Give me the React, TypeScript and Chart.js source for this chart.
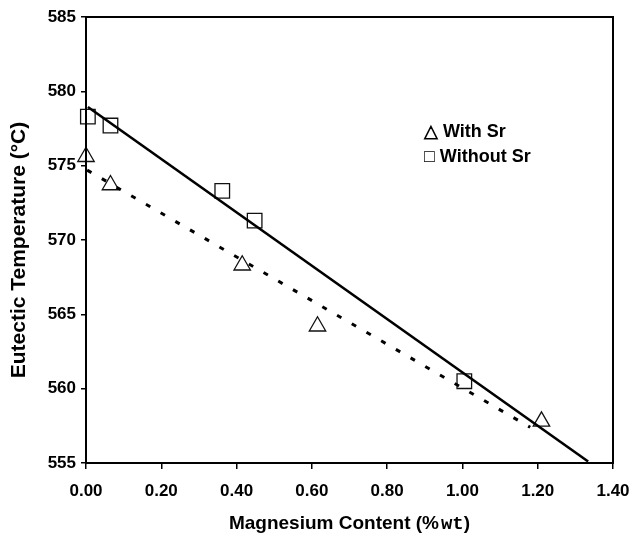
import React, { useEffect, useRef } from "react";
import { Chart, registerables } from "chart.js";

Chart.register(...registerables);

// Measured data (Magnesium content %wt vs eutectic temperature °C)
const withSrX = [0.0, 0.065, 0.415, 0.615, 1.21];
const withSrY = [575.6, 573.7, 568.3, 564.2, 557.8];
const withoutSrX = [0.005, 0.065, 0.362, 0.448, 1.005];
const withoutSrY = [578.3, 577.7, 573.3, 571.3, 560.5];

// Trend lines (end points)
const withoutSrFitX = [0.005, 1.334];
const withoutSrFitY = [578.95, 555.1];
const withSrFitX = [0.003, 1.18];
const withSrFitY = [574.7, 557.4];

const xTicks = [0, 0.2, 0.4, 0.6, 0.8, 1.0, 1.2, 1.4];
const yTicks = [555, 560, 565, 570, 575, 580, 585];

const legendLabels = ["\u25B3 With Sr", "\u25A1 Without Sr"];
const yTitle = "Eutectic Temperature (\u00B0C)";
const xTitleParts = ["Magnesium Content (%", "wt", ")"];

const toPts = (xs: number[], ys: number[]) => xs.map((x, i) => ({ x, y: ys[i] }));

const decorPlugin = {
  id: "decor",
  afterDraw(chart: any) {
    const { ctx, chartArea } = chart;
    const { left, right, top, bottom } = chartArea;
    ctx.save();
    // frame
    ctx.strokeStyle = "#000";
    ctx.lineWidth = 2;
    ctx.strokeRect(left, top, right - left, bottom - top);

    // legend
    ctx.fillStyle = "#000";
    ctx.font = "bold 18px Arial, 'Liberation Sans', sans-serif";
    ctx.textBaseline = "middle";
    ctx.textAlign = "left";
    ctx.fillText(legendLabels[0], 424, 132);
    ctx.fillText(legendLabels[1], 424, 157);

    // y title
    ctx.save();
    ctx.translate(19, 250);
    ctx.rotate(-Math.PI / 2);
    ctx.textAlign = "center";
    ctx.textBaseline = "middle";
    ctx.font = "bold 21px Arial, 'Liberation Sans', sans-serif";
    ctx.fillText(yTitle, 0, 0);
    ctx.restore();

    // x title with mixed fonts
    const fA = "bold 19px Arial, 'Liberation Sans', sans-serif";
    const fM = "bold 19px 'Courier New', 'Liberation Mono', monospace";
    ctx.font = fA;
    const w0 = ctx.measureText(xTitleParts[0]).width;
    const w2 = ctx.measureText(xTitleParts[2]).width;
    ctx.font = fM;
    const w1 = ctx.measureText(xTitleParts[1]).width;
    const total = w0 + w1 + w2 + 2;
    let x = (left + right) / 2 - total / 2;
    const yb = 529;
    ctx.textBaseline = "alphabetic";
    ctx.textAlign = "left";
    ctx.font = fA;
    ctx.fillText(xTitleParts[0], x, yb);
    x += w0 + 2;
    ctx.font = fM;
    ctx.fillText(xTitleParts[1], x, yb);
    x += w1;
    ctx.font = fA;
    ctx.fillText(xTitleParts[2], x, yb);
    ctx.restore();
  },
};

export default function App() {
  const ref = useRef<HTMLCanvasElement | null>(null);

  useEffect(() => {
    document.body.style.margin = "0";
    const canvas = ref.current;
    if (!canvas) return;
    const tickFont = { family: "Arial, 'Liberation Sans', sans-serif", size: 17, weight: "bold" as const };
    const chart = new Chart(canvas, {
      type: "scatter",
      data: {
        datasets: [
          {
            label: "Without Sr fit",
            data: toPts(withoutSrFitX, withoutSrFitY),
            showLine: true,
            borderColor: "#000",
            borderWidth: 2.6,
            pointRadius: 0,
            fill: false,
            clip: false,
          },
          {
            label: "With Sr fit",
            data: toPts(withSrFitX, withSrFitY),
            showLine: true,
            borderColor: "#000",
            borderWidth: 3,
            borderDash: [5, 12],
            pointRadius: 0,
            fill: false,
            clip: false,
          },
          {
            label: "With Sr",
            data: toPts(withSrX, withSrY),
            pointStyle: "triangle",
            pointRadius: 9.5,
            borderColor: "#111",
            borderWidth: 1.3,
            backgroundColor: "rgba(0,0,0,0)",
            clip: false,
          },
          {
            label: "Without Sr",
            data: toPts(withoutSrX, withoutSrY),
            pointStyle: "rect",
            pointRadius: 10.3,
            borderColor: "#111",
            borderWidth: 1.3,
            backgroundColor: "rgba(0,0,0,0)",
            clip: false,
          },
        ],
      },
      options: {
        responsive: false,
        animation: false,
        events: [],
        layout: { padding: { left: 0, top: 17, right: 20, bottom: 0 } },
        plugins: {
          legend: { display: false },
          tooltip: { enabled: false },
          title: { display: false },
        },
        scales: {
          x: {
            type: "linear",
            min: 0,
            max: 1.4,
            afterFit: (s: any) => {
              s.height = 71;
              s.paddingLeft = 0;
              s.paddingRight = 0;
            },
            afterBuildTicks: (s: any) => {
              s.ticks = xTicks.map((v) => ({ value: v }));
            },
            grid: { drawOnChartArea: false, drawTicks: true, tickLength: 6, color: "#000", lineWidth: 1.5 },
            border: { display: true, color: "#000", width: 2 },
            ticks: {
              color: "#000",
              font: tickFont,
              padding: 12,
              maxRotation: 0,
              callback: (v: any) => Number(v).toFixed(2),
            },
          },
          y: {
            type: "linear",
            min: 555,
            max: 585,
            afterFit: (s: any) => {
              s.width = 86;
              s.paddingTop = 0;
              s.paddingBottom = 0;
            },
            afterBuildTicks: (s: any) => {
              s.ticks = yTicks.map((v) => ({ value: v }));
            },
            grid: { drawOnChartArea: false, drawTicks: true, tickLength: 5, color: "#000", lineWidth: 1.5 },
            border: { display: true, color: "#000", width: 2 },
            ticks: {
              color: "#000",
              font: tickFont,
              padding: 5,
              callback: (v: any) => String(v),
            },
          },
        },
      },
      plugins: [decorPlugin],
    });
    return () => chart.destroy();
  }, []);

  return (
    <div style={{ width: 633, height: 534, background: "#fff" }}>
      <canvas ref={ref} width={633} height={534} style={{ display: "block", width: 633, height: 534 }} />
    </div>
  );
}
